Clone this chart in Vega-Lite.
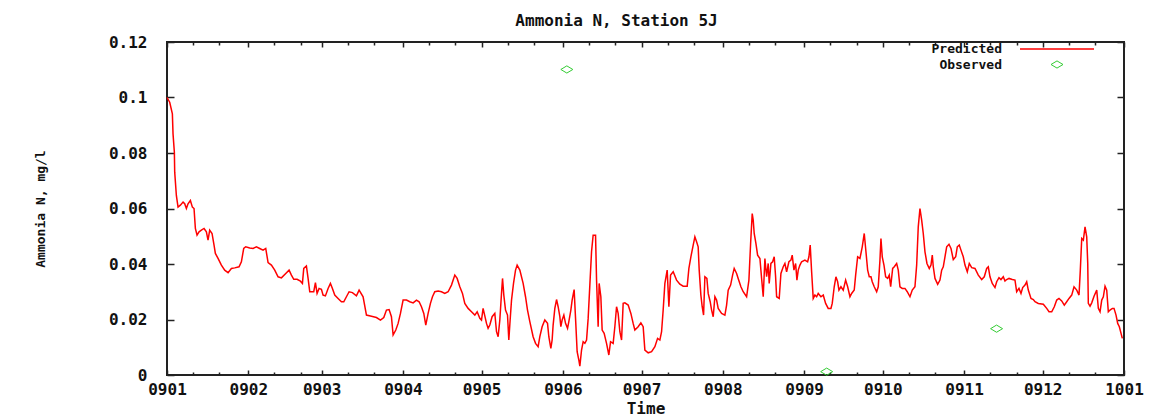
{
  "$schema": "https://vega.github.io/schema/vega-lite/v6.json",
  "width": 957,
  "height": 333,
  "autosize": {"type": "none"},
  "padding": {"left": 167, "top": 42, "right": 47, "bottom": 43},
  "background": "white",
  "config": {
    "view": {"stroke": "#222222", "strokeWidth": 2},
    "axis": {"domain": false, "grid": false, "tickColor": "#222222", "tickWidth": 1.5,
      "labelFont": "DejaVu Sans Mono", "labelFontWeight": "bold", "labelFontSize": 16, "labelColor": "#111111",
      "titleFont": "DejaVu Sans Mono", "titleFontWeight": "bold", "titleFontSize": 16, "titleColor": "#111111",
      "labelOverlap": false, "labelFlush": false},
    "legend": {"labelFont": "DejaVu Sans Mono", "labelFontWeight": "bold", "labelFontSize": 13, "labelColor": "#111111"}
  },
  "datasets": {
    "predicted": [
      {"day":0,"value":0.1},{"day":1.03,"value":0.0983},{"day":2.05,"value":0.0941},{"day":2.3,"value":0.0869},{"day":2.81,"value":0.0803},{"day":2.94,"value":0.0731},{"day":3.57,"value":0.0647},{"day":4.21,"value":0.0605},{"day":5.1,"value":0.0612},{"day":6.12,"value":0.0623},{"day":6.75,"value":0.0617},{"day":7.39,"value":0.06},{"day":8.02,"value":0.0617},{"day":8.92,"value":0.0629},{"day":9.68,"value":0.0605},{"day":10.31,"value":0.06},{"day":10.82,"value":0.0528},{"day":11.46,"value":0.0504},{"day":12.22,"value":0.0516},{"day":13.11,"value":0.0522},{"day":14.13,"value":0.0528},{"day":15.02,"value":0.0516},{"day":15.65,"value":0.0486},{"day":16.29,"value":0.0522},{"day":17.18,"value":0.051},{"day":17.94,"value":0.0468},{"day":18.45,"value":0.0438},{"day":19.47,"value":0.042},{"day":20.74,"value":0.0396},{"day":22.01,"value":0.0378},{"day":23.29,"value":0.0369},{"day":24.56,"value":0.0384},{"day":25.83,"value":0.0386},{"day":27.48,"value":0.039},{"day":28.37,"value":0.0408},{"day":29.26,"value":0.0456},{"day":30.03,"value":0.0462},{"day":31.55,"value":0.0458},{"day":32.82,"value":0.0456},{"day":34.1,"value":0.0462},{"day":35.37,"value":0.0456},{"day":36.64,"value":0.045},{"day":37.66,"value":0.0456},{"day":38.55,"value":0.0405},{"day":39.82,"value":0.0396},{"day":41.09,"value":0.0378},{"day":42.36,"value":0.0354},{"day":43.64,"value":0.035},{"day":45.29,"value":0.0366},{"day":46.56,"value":0.0378},{"day":47.45,"value":0.036},{"day":48.34,"value":0.0345},{"day":49.61,"value":0.0345},{"day":50.89,"value":0.0338},{"day":51.65,"value":0.033},{"day":52.16,"value":0.0384},{"day":53.17,"value":0.0393},{"day":53.81,"value":0.0348},{"day":54.45,"value":0.03},{"day":55.08,"value":0.03},{"day":55.97,"value":0.03},{"day":56.61,"value":0.0333},{"day":57.24,"value":0.0294},{"day":58.0,"value":0.0312},{"day":58.9,"value":0.0309},{"day":59.53,"value":0.0288},{"day":60.42,"value":0.0285},{"day":61.44,"value":0.0312},{"day":62.33,"value":0.033},{"day":63.09,"value":0.0312},{"day":63.98,"value":0.0288},{"day":65.25,"value":0.0276},{"day":66.53,"value":0.0264},{"day":67.42,"value":0.0264},{"day":68.43,"value":0.0282},{"day":69.45,"value":0.03},{"day":70.72,"value":0.0297},{"day":72.25,"value":0.0285},{"day":73.27,"value":0.0306},
      {"day":74.79,"value":0.0282},{"day":76.07,"value":0.0216},{"day":77.97,"value":0.0212},{"day":79.88,"value":0.0207},{"day":81.41,"value":0.0198},{"day":82.68,"value":0.0207},{"day":83.7,"value":0.0234},{"day":84.71,"value":0.0236},{"day":85.6,"value":0.021},{"day":86.24,"value":0.0144},{"day":87.26,"value":0.0162},{"day":88.15,"value":0.0186},{"day":89.04,"value":0.0222},{"day":90.05,"value":0.027},{"day":91.33,"value":0.027},{"day":92.6,"value":0.0264},{"day":93.87,"value":0.026},{"day":95.14,"value":0.027},{"day":96.16,"value":0.0264},{"day":97.05,"value":0.0246},{"day":97.94,"value":0.0222},{"day":98.7,"value":0.018},{"day":99.59,"value":0.0222},{"day":100.48,"value":0.0258},{"day":101.25,"value":0.0282},{"day":102.14,"value":0.03},{"day":103.41,"value":0.0303},{"day":104.68,"value":0.03},{"day":105.95,"value":0.0294},{"day":107.22,"value":0.03},{"day":108.5,"value":0.0324},{"day":109.77,"value":0.036},{"day":110.66,"value":0.0348},{"day":111.68,"value":0.0318},{"day":112.69,"value":0.0294},{"day":113.58,"value":0.0258},{"day":114.85,"value":0.024},{"day":116.13,"value":0.0228},{"day":117.4,"value":0.0216},{"day":118.29,"value":0.0228},{"day":119.31,"value":0.0204},
      {"day":119.95,"value":0.0198},{"day":120.56,"value":0.024},{"day":121.86,"value":0.0186},{"day":122.47,"value":0.0168},{"day":123.12,"value":0.018},{"day":124.0,"value":0.021},{"day":125.03,"value":0.0222},{"day":125.68,"value":0.0156},{"day":126.29,"value":0.0138},{"day":126.94,"value":0.0198},{"day":127.58,"value":0.0294},{"day":127.97,"value":0.0348},{"day":128.46,"value":0.0288},{"day":129.11,"value":0.0234},{"day":129.87,"value":0.0216},{"day":130.37,"value":0.0126},{"day":130.87,"value":0.0198},{"day":131.4,"value":0.027},{"day":132.16,"value":0.033},{"day":132.93,"value":0.0378},{"day":133.54,"value":0.0396},{"day":134.57,"value":0.0378},{"day":135.83,"value":0.033},{"day":136.74,"value":0.0282},{"day":137.5,"value":0.0234},{"day":138.38,"value":0.0192},{"day":139.64,"value":0.0138},{"day":140.56,"value":0.0114},{"day":141.55,"value":0.0102},{"day":142.2,"value":0.0138},{"day":143.07,"value":0.0174},{"day":144.1,"value":0.0198},{"day":145.13,"value":0.0186},
      {"day":145.63,"value":0.0138},{"day":146.4,"value":0.0096},{"day":146.89,"value":0.0126},{"day":147.27,"value":0.018},{"day":147.92,"value":0.024},{"day":148.57,"value":0.0272},{"day":149.18,"value":0.0246},{"day":149.83,"value":0.021},{"day":150.21,"value":0.0174},{"day":150.71,"value":0.0198},{"day":151.36,"value":0.0216},{"day":152.0,"value":0.0186},{"day":152.77,"value":0.0168},{"day":153.26,"value":0.0192},{"day":154.03,"value":0.0234},{"day":154.52,"value":0.027},{"day":155.28,"value":0.0308},{"day":155.82,"value":0.0204},{"day":156.43,"value":0.0084},{"day":157.08,"value":0.0054},{"day":157.46,"value":0.0032},{"day":158.11,"value":0.009},{"day":158.72,"value":0.012},{"day":159.37,"value":0.0114},{"day":160.02,"value":0.0126},{"day":160.63,"value":0.0204},{"day":161.27,"value":0.0324},{"day":161.92,"value":0.0444},{"day":162.53,"value":0.0504},{"day":163.45,"value":0.0504},{"day":163.83,"value":0.0342},{"day":164.44,"value":0.0174},{"day":164.82,"value":0.033},{"day":165.47,"value":0.0282},{"day":165.97,"value":0.0162},{"day":166.73,"value":0.015},{"day":167.64,"value":0.0114},{"day":168.52,"value":0.0072},{"day":169.17,"value":0.012},{"day":170.16,"value":0.0114},{"day":170.81,"value":0.0174},{"day":171.46,"value":0.0246},{"day":172.07,"value":0.0222},{"day":172.72,"value":0.0156},{"day":173.37,"value":0.0126},{"day":173.98,"value":0.0258},{"day":174.63,"value":0.026},{"day":175.89,"value":0.0252},{"day":176.92,"value":0.0222},{"day":177.79,"value":0.0186},{"day":178.44,"value":0.0162},{"day":179.7,"value":0.0174},{"day":180.73,"value":0.0188},{"day":181.61,"value":0.0174},{"day":182.26,"value":0.009},{"day":183.52,"value":0.008},{"day":184.82,"value":0.0084},{"day":186.08,"value":0.0102},{"day":187.11,"value":0.0132},{"day":187.98,"value":0.0126},{"day":188.63,"value":0.0156},{"day":189.24,"value":0.0234},{"day":189.89,"value":0.033},{"day":190.77,"value":0.0378},{"day":191.42,"value":0.0246},{"day":192.06,"value":0.036},{"day":193.06,"value":0.0372},{"day":194.35,"value":0.0342},{"day":195.61,"value":0.0327},{"day":196.87,"value":0.032},{"day":198.4,"value":0.032},{"day":199.05,"value":0.0384},{"day":199.81,"value":0.0426},{"day":200.69,"value":0.0468},{"day":201.33,"value":0.0498},{"day":201.98,"value":0.048},{"day":202.59,"value":0.0462},{"day":202.98,"value":0.0378},{"day":203.62,"value":0.0288},{"day":204.12,"value":0.0246},{"day":204.65,"value":0.0216},{"day":205.15,"value":0.0354},{"day":205.91,"value":0.0348},{"day":206.41,"value":0.0294},{"day":207.17,"value":0.0264},{"day":207.71,"value":0.0234},{"day":208.32,"value":0.021},{"day":208.97,"value":0.0282},{"day":209.61,"value":0.027},{"day":210.23,"value":0.024},{"day":211.52,"value":0.0222},{"day":212.78,"value":0.0216},{"day":213.43,"value":0.0252},{"day":214.04,"value":0.0306},{"day":214.96,"value":0.0324},{"day":215.72,"value":0.036},{"day":216.33,"value":0.0384},{"day":217.25,"value":0.0366},
      {"day":217.85,"value":0.0348},{"day":218.89,"value":0.0318},{"day":219.76,"value":0.03},{"day":221.06,"value":0.0282},{"day":221.94,"value":0.0342},{"day":222.59,"value":0.0474},{"day":223.2,"value":0.0582},{"day":223.58,"value":0.0558},{"day":223.96,"value":0.051},{"day":224.61,"value":0.0474},{"day":225.26,"value":0.0432},{"day":226.14,"value":0.042},{"day":226.78,"value":0.0348},{"day":227.4,"value":0.0282},{"day":228.04,"value":0.042},{"day":228.69,"value":0.0354},{"day":229.3,"value":0.0402},{"day":229.68,"value":0.033},{"day":230.33,"value":0.0402},{"day":230.98,"value":0.0408},{"day":231.59,"value":0.0426},{"day":232.12,"value":0.0354},{"day":232.51,"value":0.0282},{"day":233.5,"value":0.0276},{"day":234.15,"value":0.0366},{"day":235.03,"value":0.039},{"day":235.67,"value":0.0402},{"day":236.32,"value":0.0372},{"day":237.2,"value":0.0408},{"day":237.96,"value":0.0414},{"day":238.46,"value":0.0432},{"day":239.11,"value":0.0378},{"day":239.76,"value":0.0402},{"day":240.25,"value":0.0342},{"day":240.75,"value":0.0378},{"day":241.4,"value":0.0396},{"day":242.04,"value":0.0408},{"day":243.3,"value":0.0414},{"day":244.33,"value":0.0408},{"day":244.83,"value":0.0426},{"day":245.32,"value":0.0468},{"day":245.86,"value":0.0372},{"day":246.47,"value":0.0276},{"day":247.12,"value":0.0288},{"day":247.77,"value":0.0282},{"day":248.38,"value":0.0294},{"day":249.41,"value":0.0282},{"day":250.29,"value":0.0288},{"day":251.2,"value":0.0258},{"day":252.19,"value":0.024},{"day":253.22,"value":0.024},{"day":253.72,"value":0.0258},{"day":254.48,"value":0.0318},{"day":255.13,"value":0.0354},{"day":255.78,"value":0.0336},{"day":256.28,"value":0.0306},{"day":257.04,"value":0.0318},{"day":257.92,"value":0.0306},{"day":258.83,"value":0.0342},{"day":259.6,"value":0.0318},{"day":260.48,"value":0.0282},{"day":261.12,"value":0.0294},{"day":262.11,"value":0.0306},{"day":262.65,"value":0.036},{"day":263.41,"value":0.0426},{"day":264.29,"value":0.042},{"day":265.17,"value":0.0462},{"day":265.93,"value":0.051},{"day":266.58,"value":0.0444},{"day":267.23,"value":0.0378},{"day":267.84,"value":0.0354},{"day":268.49,"value":0.0354},{"day":268.98,"value":0.0336},{"day":269.74,"value":0.0318},{"day":270.66,"value":0.03},{"day":271.27,"value":0.0318},{"day":271.92,"value":0.0414},{"day":272.3,"value":0.0492},{"day":272.8,"value":0.0426},{"day":273.45,"value":0.0396},{"day":274.1,"value":0.0354},{"day":274.86,"value":0.0348},{"day":275.47,"value":0.036},{"day":276.01,"value":0.0318},{"day":276.77,"value":0.0384},{"day":277.38,"value":0.039},{"day":278.29,"value":0.0402},{"day":278.9,"value":0.0378},{"day":279.55,"value":0.0318},{"day":280.43,"value":0.0312},{"day":281.46,"value":0.0312},{"day":282.33,"value":0.03},{"day":283.37,"value":0.0282},{"day":284.24,"value":0.0306},{"day":285.27,"value":0.0318},{"day":285.92,"value":0.0396},{"day":286.53,"value":0.0534},{"day":287.18,"value":0.06},{"day":287.83,"value":0.0558},{"day":288.44,"value":0.051},{"day":289.09,"value":0.0444},{"day":289.85,"value":0.0402},{"day":290.73,"value":0.0384},
      {"day":291.38,"value":0.0396},{"day":291.88,"value":0.0432},{"day":292.26,"value":0.039},{"day":292.91,"value":0.0348},{"day":293.94,"value":0.0327},{"day":294.81,"value":0.0342},{"day":295.46,"value":0.0378},{"day":296.07,"value":0.039},{"day":296.72,"value":0.0426},{"day":297.37,"value":0.0462},{"day":298.25,"value":0.0471},{"day":299.01,"value":0.0456},{"day":299.89,"value":0.0416},{"day":300.81,"value":0.0426},{"day":301.41,"value":0.0462},{"day":302.17,"value":0.0468},{"day":302.82,"value":0.045},{"day":303.7,"value":0.0426},{"day":304.35,"value":0.0396},{"day":305.23,"value":0.0372},{"day":305.99,"value":0.0402},{"day":306.91,"value":0.0387},{"day":308.17,"value":0.0384},{"day":309.43,"value":0.036},{"day":310.72,"value":0.0344},{"day":311.71,"value":0.0354},{"day":312.63,"value":0.0384},{"day":313.24,"value":0.039},{"day":313.89,"value":0.0354},{"day":314.76,"value":0.033},{"day":315.79,"value":0.0315},{"day":316.44,"value":0.0336},{"day":317.32,"value":0.0351},{"day":318.08,"value":0.0344},{"day":318.96,"value":0.0354},{"day":319.61,"value":0.0339},{"day":320.26,"value":0.0344},{"day":321.14,"value":0.0348},{"day":322.4,"value":0.0344},{"day":323.42,"value":0.0342},{"day":324.07,"value":0.03},{"day":324.95,"value":0.0312},{"day":325.71,"value":0.0294},{"day":326.36,"value":0.0315},{"day":327.24,"value":0.0324},{"day":327.89,"value":0.0336},{"day":328.5,"value":0.0306},{"day":329.53,"value":0.0276},{"day":330.41,"value":0.0272},{"day":331.06,"value":0.0264},{"day":332.32,"value":0.0258},{"day":334.23,"value":0.0255},{"day":335.52,"value":0.024},{"day":336.4,"value":0.0228},{"day":337.43,"value":0.0228},{"day":338.42,"value":0.0246},{"day":339.34,"value":0.027},{"day":340.21,"value":0.0276},{"day":341.24,"value":0.0267},{"day":342.23,"value":0.0252},{"day":343.15,"value":0.0264},{"day":344.03,"value":0.0276},{"day":345.06,"value":0.0288},{"day":345.94,"value":0.0318},{"day":346.97,"value":0.0306},{"day":347.85,"value":0.0288},{"day":348.34,"value":0.0378},{"day":348.88,"value":0.0492},{"day":349.49,"value":0.0486},{"day":350.14,"value":0.0534},{"day":350.78,"value":0.0498},{"day":351.17,"value":0.0402},{"day":351.39,"value":0.0258},{"day":352.04,"value":0.0248},{"day":352.69,"value":0.026},{"day":353.57,"value":0.0284},{"day":354.6,"value":0.0306},{"day":355.21,"value":0.024},{"day":355.86,"value":0.0228},{"day":356.51,"value":0.027},{"day":357.12,"value":0.0282},{"day":357.77,"value":0.032},{"day":358.41,"value":0.0306},{"day":359.02,"value":0.0228},{"day":359.67,"value":0.0234},{"day":360.55,"value":0.024},{"day":361.2,"value":0.024},{"day":361.96,"value":0.0216},{"day":362.6,"value":0.0186},{"day":363.22,"value":0.0174},{"day":363.87,"value":0.015},{"day":364.36,"value":0.0132}
    ],
    "observed": [
      {"day":152.5,"value":0.1101},{"day":251.6,"value":0.0012},{"day":316.4,"value":0.0167}
    ]
  },
  "resolve": {"axis": {"x": "independent", "y": "independent"}},
  "layer": [
    {
      "data": {"name": "predicted"},
      "mark": {"type": "line", "strokeWidth": 1.5},
      "encoding": {
        "x": {"field": "day", "type": "quantitative",
          "scale": {"domain": [0, 365], "nice": false, "zero": false},
          "axis": {"orient": "bottom",
            "values": [0,10,20,31,41,51,59,69,79,90,100,110,120,130,140,151,161,171,181,191,201,212,222,232,243,253,263,273,283,293,304,314,324,334,344,354,365],
            "labelExpr": "date(datetime(2009,0,1+datum.value))==1 ? timeFormat(datetime(2009,0,1+datum.value),'%y%m') : ''",
            "tickSize": {"expr": "date(datetime(2009,0,1+datum.value))==1 ? -5 : -3"},
            "labelPadding": 19, "labelBaseline": "middle",
            "title": "Time", "titleY": 33, "titleBaseline": "middle"}},
        "y": {"field": "value", "type": "quantitative",
          "scale": {"domain": [0, 0.12], "nice": false, "zero": true},
          "axis": {"orient": "left", "values": [0,0.02,0.04,0.06,0.08,0.1,0.12], "format": ".2~f",
            "tickSize": -7, "labelPadding": 27,
            "title": "Ammonia N, mg/l", "titleFontSize": 13, "titleX": -127, "titleY": 166.5,
            "titleBaseline": "middle", "titleAlign": "center", "titleAngle": -90}},
        "stroke": {"datum": "Predicted", "type": "nominal",
          "scale": {"domain": ["Predicted"], "range": ["#ff0000"]},
          "legend": {"orient": "none", "legendX": 852, "legendY": -31, "title": null, "padding": 0,
            "symbolType": "stroke", "symbolSize": 5476, "symbolStrokeWidth": 1.5,
            "labelAlign": "right", "labelOffset": -93}}
      }
    },
    {
      "data": {"name": "observed"},
      "mark": {"type": "point", "shape": "M-1,0L0,-0.6L1,0L0,0.6Z", "size": 144, "filled": false, "strokeWidth": 1, "opacity": 1},
      "encoding": {
        "x": {"field": "day", "type": "quantitative",
          "scale": {"domain": [0, 365], "nice": false, "zero": false},
          "axis": {"orient": "top",
            "values": [0,10,20,31,41,51,59,69,79,90,100,110,120,130,140,151,161,171,181,191,201,212,222,232,243,253,263,273,283,293,304,314,324,334,344,354,365],
            "labels": false,
            "tickSize": {"expr": "date(datetime(2009,0,1+datum.value))==1 ? -5 : -3"},
            "title": "Ammonia N, Station 5J", "titleX": 449, "titleY": -22,
            "titleBaseline": "middle", "titleAlign": "center"}},
        "y": {"field": "value", "type": "quantitative",
          "scale": {"domain": [0, 0.12], "nice": false, "zero": true},
          "axis": {"orient": "right", "values": [0,0.02,0.04,0.06,0.08,0.1,0.12], "labels": false, "tickSize": -7, "title": null}},
        "color": {"datum": "Observed", "type": "nominal",
          "scale": {"domain": ["Observed"], "range": ["#33cc33"]},
          "legend": {"orient": "none", "legendX": 883.5, "legendY": 16, "title": null, "padding": 0,
            "symbolType": "M-1,0L0,-0.6L1,0L0,0.6Z", "symbolSize": 144, "symbolStrokeWidth": 1,
            "labelAlign": "right", "labelOffset": -61.5}}
      }
    }
  ]
}
